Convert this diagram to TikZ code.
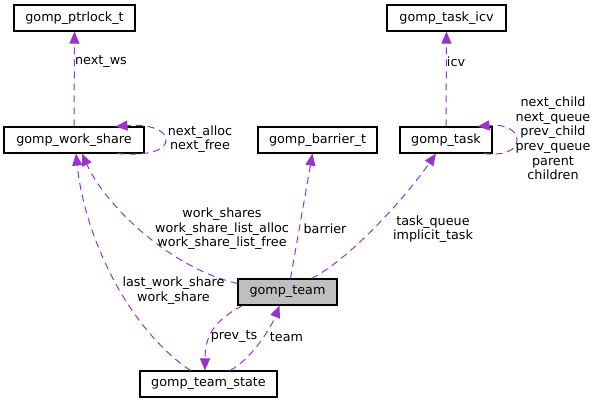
\documentclass[tikz,border=0pt]{standalone}
\usepackage{fontspec}
\setmainfont{DejaVu Sans}
\usetikzlibrary{arrows.meta,calc}
\definecolor{edgec}{HTML}{9A32CD}
\definecolor{boxgray}{HTML}{BFBFBF}
\begin{document}
\begin{tikzpicture}[x=1bp,y=-1bp,
  box/.style={draw=black,line width=1.1bp,inner sep=0pt,minimum height=26bp,font=\fontsize{12.8}{14.6}\selectfont},
  lbl/.style={inner sep=0pt,align=center,font=\fontsize{12.8}{14.6}\selectfont},
  dep/.style={draw=edgec,line width=1bp,dash pattern=on 7bp off 5bp,-{Triangle[length=12bp,width=10bp]},color=edgec}]
\useasboundingbox (0,0) rectangle (599,403);
\node[box,minimum width=121bp] (ptr) at (74.5,18) {gomp\_ptrlock\_t};
\node[box,minimum width=119bp] (icv) at (446.5,18) {gomp\_task\_icv};
\node[box,minimum width=140bp] (ws) at (74,140) {gomp\_work\_share};
\node[box,minimum width=119bp] (bar) at (317.5,140) {gomp\_barrier\_t};
\node[box,minimum width=92bp] (task) at (446,140) {gomp\_task};
\node[box,minimum width=99bp,fill=boxgray] (team) at (287.5,292) {gomp\_team};
\node[box,minimum width=137bp] (ts) at (208.5,384) {gomp\_team\_state};

% edges
\draw[dep] (ws.north) -- (ptr.south);
\draw[dep] (task.north) -- (icv.south);
\draw[dep] ([xshift=-27bp]ws.south east) .. controls (150,156) and (166,150) .. (166,140)
   .. controls (166,130) and (150,124) .. ([xshift=-29bp]ws.north east);
\draw[dep] ([xshift=-9bp]task.south east) .. controls (505,156) and (517,150) .. (517,140)
   .. controls (517,130) and (505,124) .. ([xshift=-15bp]task.north east);
\draw[dep] ([yshift=-5bp]team.north west) .. controls (170,268) and (105,205) .. ([xshift=8bp]ws.south);
\draw[dep] ([xshift=-18bp]ts.north) .. controls (130,330) and (85,240) .. ([xshift=2bp]ws.south);
\draw[dep] ([xshift=3bp]team.north) -- ([xshift=-5bp]bar.south);
\draw[dep] ([xshift=24bp]team.north) .. controls (345,262) and (400,205) .. ([xshift=-10bp]task.south);
\draw[dep] ([xshift=5bp]team.south west) .. controls (215,320) and (205,335) .. ([xshift=-3.5bp]ts.north);
\draw[dep] ([xshift=21.5bp]ts.north) .. controls (250,360) and (270,330) .. ([xshift=-8bp]team.south);

% labels
\node[lbl] (l1) at (101,62) {next\_ws};
\node[lbl] (l2) at (456,62) {icv};
\node[lbl] (l3) at (200,139) {next\_alloc\\next\_free};
\node[lbl] (l4) at (553,138.5) {next\_child\\next\_queue\\prev\_child\\prev\_queue\\parent\\children};
\node[lbl] (l5) at (222,229) {work\_shares\\work\_share\_list\_alloc\\work\_share\_list\_free};
\node[lbl] (l6) at (325,229) {barrier};
\node[lbl] (l7) at (433,229) {task\_queue\\implicit\_task};
\node[lbl] (l8) at (173.5,290.5) {last\_work\_share\\work\_share};
\node[lbl] (l9) at (234,337) {prev\_ts};
\node[lbl] (l10) at (286.5,337) {team};
\end{tikzpicture}
\end{document}
